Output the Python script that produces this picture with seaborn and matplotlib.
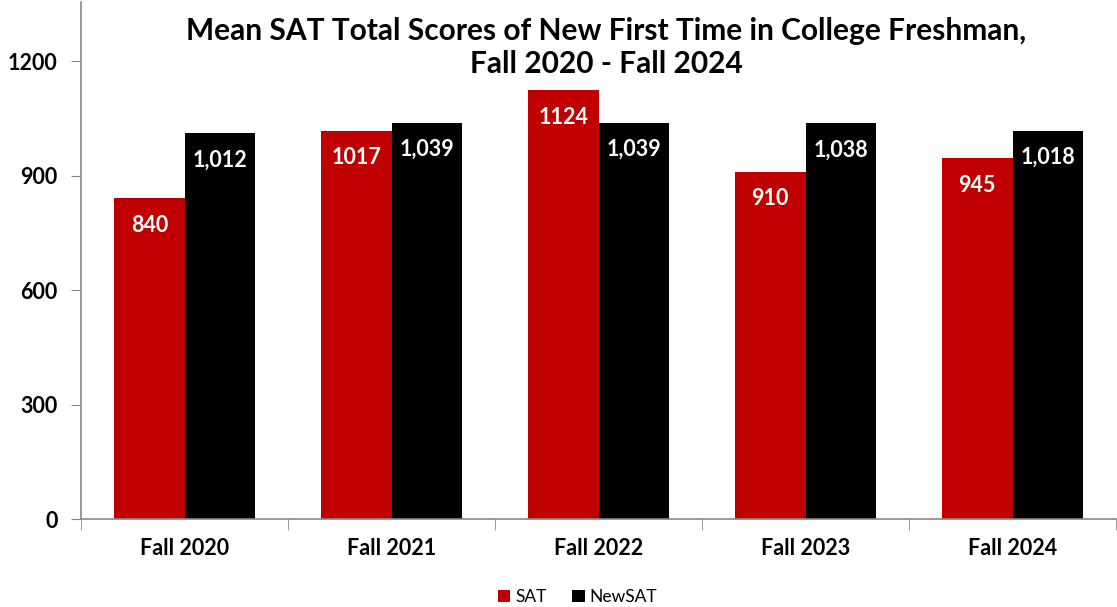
import matplotlib
matplotlib.use("Agg")
import matplotlib.pyplot as plt
import seaborn as sns
import pandas as pd
import numpy as np

years = ["Fall 2020", "Fall 2021", "Fall 2022", "Fall 2023", "Fall 2024"]
sat = [840, 1017, 1124, 910, 945]
new_sat = [1012, 1039, 1039, 1038, 1018]
sat_labels = ["840", "1017", "1124", "910", "945"]
new_sat_labels = ["1,012", "1,039", "1,039", "1,038", "1,018"]

df = pd.DataFrame({
    "year": years * 2,
    "score": sat + new_sat,
    "test": ["SAT"] * 5 + ["NewSAT"] * 5,
})

sns.set_style("white")
plt.rcParams["font.family"] = ["Lato", "DejaVu Sans"]
plt.rcParams["text.color"] = "black"
plt.rcParams["xtick.labelcolor"] = "black"
plt.rcParams["ytick.labelcolor"] = "black"

fig = plt.figure(figsize=(11.17, 6.07), dpi=100)
ax = fig.add_axes([81 / 1117, 1 - 519 / 607, 1035 / 1117, 517 / 607])

sns.barplot(data=df, x="year", y="score", hue="test",
            palette={"SAT": "#C00000", "NewSAT": "#000000"},
            width=0.68, gap=0, saturation=1, linewidth=0, ax=ax, legend=True)

# value labels inside the bars
for cont, labs in zip(ax.containers, [sat_labels, new_sat_labels]):
    ax.bar_label(cont, labels=labs, padding=-27, color="white",
                 fontsize=15.5, fontweight="bold")

ax.set_ylim(0, 1355)
ax.set_xlim(-0.5, 4.5)
ax.set_yticks([0, 300, 600, 900, 1200])
ax.set_xlabel("")
ax.set_ylabel("")
for lab in ax.get_yticklabels() + ax.get_xticklabels():
    lab.set_fontweight("bold")
    lab.set_fontsize(15.5)
    lab.set_color("black")
ax.tick_params(axis="y", left=True, length=7, color="#888888", pad=10)
ax.tick_params(axis="x", which="major", length=0, pad=14)
ax.set_xticks(np.arange(-0.5, 5, 1), minor=True)
ax.tick_params(axis="x", which="minor", bottom=True, length=8, color="#888888")

sns.despine(ax=ax, top=True, right=True)
for s in ["left", "bottom"]:
    ax.spines[s].set_color("#888888")
    ax.spines[s].set_linewidth(1.2)

fig.text(0.543, 0.922, "Mean SAT Total Scores of New First Time in College Freshman,\nFall 2020 - Fall 2024",
         ha="center", va="center", fontsize=21.5, fontweight="bold", linespacing=1.2,
         color="black")

handles, labels = ax.get_legend_handles_labels()
ax.get_legend().remove()
fig.legend(handles, labels, loc="center", bbox_to_anchor=(0.517, 0.017),
           ncol=2, frameon=False, fontsize=12.5, handlelength=0.7, handleheight=0.7,
           handletextpad=0.3, columnspacing=1.5, labelcolor="black")

fig.savefig("out.png", dpi=100)
